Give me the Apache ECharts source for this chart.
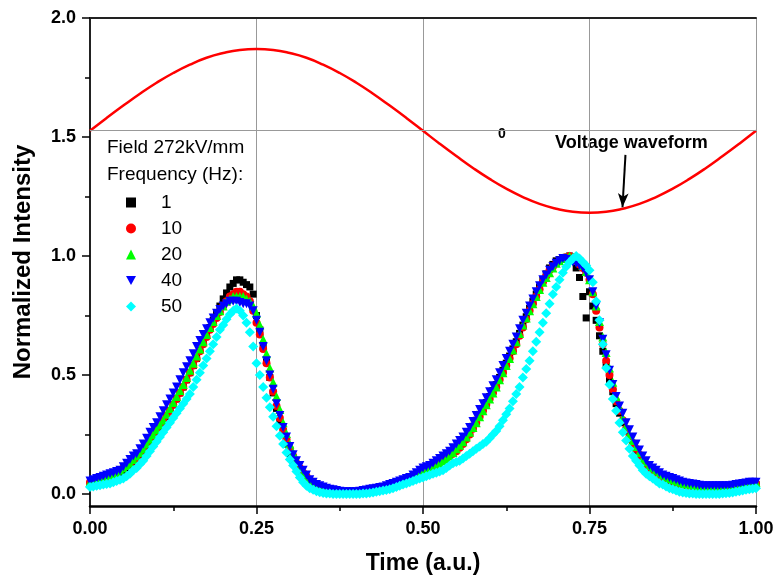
<!DOCTYPE html>
<html>
<head>
<meta charset="utf-8">
<script src="https://cdn.jsdelivr.net/npm/echarts@6/dist/echarts.min.js"></script>
<style>html,body{margin:0;padding:0;background:#fff}#c{width:777px;height:585px}</style>
</head>
<body>
<div id="c"></div>
<script>
// ---- data ----
const time = [
0.000,0.005,0.010,0.015,0.020,0.025,0.030,0.035,0.040,0.045,
0.050,0.055,0.060,0.065,0.070,0.075,0.080,0.085,0.090,0.095,
0.100,0.105,0.110,0.115,0.120,0.125,0.130,0.135,0.140,0.145,
0.150,0.155,0.160,0.165,0.170,0.175,0.180,0.185,0.190,0.195,
0.200,0.205,0.210,0.215,0.220,0.225,0.230,0.235,0.240,0.245,
0.250,0.255,0.260,0.265,0.270,0.275,0.280,0.285,0.290,0.295,
0.300,0.305,0.310,0.315,0.320,0.325,0.330,0.335,0.340,0.345,
0.350,0.355,0.360,0.365,0.370,0.375,0.380,0.385,0.390,0.395,
0.400,0.405,0.410,0.415,0.420,0.425,0.430,0.435,0.440,0.445,
0.450,0.455,0.460,0.465,0.470,0.475,0.480,0.485,0.490,0.495,
0.500,0.505,0.510,0.515,0.520,0.525,0.530,0.535,0.540,0.545,
0.550,0.555,0.560,0.565,0.570,0.575,0.580,0.585,0.590,0.595,
0.600,0.605,0.610,0.615,0.620,0.625,0.630,0.635,0.640,0.645,
0.650,0.655,0.660,0.665,0.670,0.675,0.680,0.685,0.690,0.695,
0.700,0.705,0.710,0.715,0.720,0.725,0.730,0.735,0.740,0.745,
0.750,0.755,0.760,0.765,0.770,0.775,0.780,0.785,0.790,0.795,
0.800,0.805,0.810,0.815,0.820,0.825,0.830,0.835,0.840,0.845,
0.850,0.855,0.860,0.865,0.870,0.875,0.880,0.885,0.890,0.895,
0.900,0.905,0.910,0.915,0.920,0.925,0.930,0.935,0.940,0.945,
0.950,0.955,0.960,0.965,0.970,0.975,0.980,0.985,0.990,0.995,
1.000];

const hz1 = [
0.04,0.045,0.05,0.055,0.06,0.065,0.07,0.075,0.08,0.09,
0.10,0.11,0.12,0.135,0.15,0.165,0.18,0.20,0.22,0.24,
0.26,0.28,0.30,0.325,0.35,0.375,0.40,0.425,0.45,0.48,
0.51,0.54,0.57,0.605,0.64,0.67,0.70,0.73,0.76,0.79,
0.82,0.845,0.87,0.885,0.90,0.90,0.89,0.88,0.87,0.84,
0.75,0.69,0.62,0.555,0.49,0.425,0.36,0.30,0.25,0.21,
0.17,0.14,0.11,0.095,0.08,0.065,0.05,0.04,0.035,0.03,
0.025,0.022,0.02,0.017,0.015,0.012,0.01,0.01,0.01,0.01,
0.01,0.01,0.01,0.012,0.015,0.017,0.02,0.022,0.025,0.028,
0.03,0.035,0.04,0.045,0.05,0.055,0.06,0.07,0.08,0.09,
0.10,0.105,0.11,0.12,0.13,0.14,0.15,0.16,0.17,0.18,
0.19,0.205,0.22,0.24,0.26,0.285,0.31,0.335,0.36,0.385,
0.41,0.435,0.46,0.49,0.52,0.55,0.58,0.61,0.64,0.675,
0.71,0.745,0.78,0.81,0.84,0.87,0.90,0.925,0.95,0.965,
0.98,0.985,0.99,0.995,1.00,0.99,0.95,0.91,0.83,0.74,
0.85,0.79,0.73,0.665,0.60,0.54,0.48,0.43,0.38,0.34,
0.30,0.265,0.23,0.205,0.18,0.16,0.14,0.12,0.11,0.095,
0.08,0.072,0.065,0.06,0.055,0.05,0.045,0.042,0.04,0.037,
0.035,0.032,0.03,0.027,0.025,0.022,0.02,0.02,0.02,0.02,
0.02,0.022,0.025,0.025,0.025,0.027,0.03,0.032,0.035,0.037,
0.04];

const hz10 = [
0.05,0.055,0.06,0.065,0.07,0.075,0.08,0.085,0.09,0.10,
0.11,0.12,0.13,0.14,0.15,0.17,0.19,0.21,0.23,0.25,
0.27,0.29,0.31,0.33,0.35,0.375,0.40,0.425,0.45,0.48,
0.51,0.54,0.57,0.60,0.63,0.66,0.69,0.715,0.74,0.765,
0.79,0.81,0.83,0.84,0.85,0.85,0.84,0.83,0.81,0.77,
0.72,0.67,0.61,0.55,0.49,0.43,0.37,0.32,0.27,0.23,
0.19,0.16,0.13,0.11,0.09,0.075,0.06,0.05,0.04,0.035,
0.03,0.025,0.02,0.018,0.015,0.012,0.01,0.01,0.01,0.01,
0.01,0.01,0.01,0.012,0.015,0.017,0.02,0.022,0.025,0.028,
0.03,0.035,0.04,0.045,0.05,0.055,0.06,0.07,0.08,0.09,
0.10,0.105,0.11,0.115,0.12,0.13,0.14,0.15,0.16,0.17,
0.18,0.195,0.21,0.23,0.25,0.275,0.30,0.325,0.35,0.375,
0.40,0.425,0.45,0.48,0.51,0.54,0.57,0.60,0.63,0.665,
0.70,0.735,0.77,0.80,0.83,0.86,0.89,0.915,0.94,0.955,
0.97,0.98,0.99,0.995,1.00,0.995,0.98,0.965,0.95,0.93,
0.90,0.84,0.77,0.70,0.63,0.56,0.50,0.44,0.39,0.35,
0.31,0.275,0.24,0.215,0.19,0.165,0.14,0.125,0.11,0.10,
0.09,0.08,0.07,0.065,0.06,0.055,0.05,0.045,0.04,0.038,
0.035,0.032,0.03,0.028,0.025,0.025,0.025,0.025,0.025,0.025,
0.025,0.025,0.025,0.027,0.03,0.032,0.035,0.038,0.04,0.042,
0.045];

const hz20 = [
0.05,0.055,0.06,0.065,0.07,0.075,0.08,0.085,0.09,0.10,
0.11,0.12,0.13,0.145,0.16,0.175,0.19,0.21,0.23,0.25,
0.27,0.29,0.31,0.335,0.36,0.385,0.41,0.435,0.46,0.49,
0.52,0.55,0.58,0.61,0.64,0.67,0.70,0.725,0.75,0.77,
0.79,0.81,0.82,0.83,0.83,0.83,0.83,0.82,0.81,0.79,
0.76,0.71,0.65,0.59,0.53,0.47,0.41,0.355,0.30,0.255,
0.21,0.175,0.14,0.115,0.09,0.075,0.06,0.05,0.04,0.035,
0.03,0.025,0.02,0.018,0.015,0.012,0.01,0.01,0.01,0.01,
0.01,0.01,0.01,0.012,0.015,0.017,0.02,0.022,0.025,0.028,
0.03,0.035,0.04,0.045,0.05,0.055,0.06,0.07,0.08,0.09,
0.10,0.105,0.11,0.115,0.12,0.13,0.14,0.15,0.16,0.175,
0.19,0.205,0.22,0.24,0.26,0.28,0.30,0.325,0.35,0.375,
0.40,0.425,0.45,0.48,0.51,0.54,0.57,0.605,0.64,0.675,
0.71,0.74,0.77,0.80,0.83,0.86,0.89,0.91,0.93,0.95,
0.97,0.98,0.99,0.995,1.00,0.995,0.99,0.98,0.96,0.935,
0.90,0.85,0.79,0.725,0.66,0.595,0.53,0.47,0.41,0.365,
0.32,0.285,0.25,0.225,0.20,0.175,0.15,0.135,0.12,0.11,
0.10,0.09,0.08,0.072,0.065,0.06,0.055,0.05,0.045,0.042,
0.04,0.037,0.035,0.032,0.03,0.03,0.03,0.03,0.03,0.03,
0.03,0.03,0.03,0.032,0.035,0.037,0.04,0.042,0.045,0.047,
0.05];

const hz40 = [
0.055,0.06,0.065,0.07,0.075,0.08,0.085,0.09,0.095,0.10,
0.115,0.13,0.145,0.16,0.17,0.19,0.21,0.235,0.26,0.28,
0.30,0.325,0.35,0.375,0.40,0.425,0.45,0.48,0.51,0.535,
0.56,0.59,0.62,0.645,0.67,0.695,0.72,0.74,0.76,0.775,
0.79,0.80,0.81,0.81,0.81,0.805,0.80,0.80,0.79,0.77,
0.73,0.68,0.62,0.56,0.50,0.44,0.38,0.33,0.28,0.24,
0.20,0.165,0.14,0.12,0.10,0.08,0.06,0.05,0.04,0.035,
0.03,0.025,0.02,0.018,0.015,0.012,0.01,0.01,0.01,0.01,
0.01,0.012,0.015,0.017,0.02,0.022,0.025,0.028,0.03,0.035,
0.04,0.045,0.05,0.055,0.06,0.065,0.07,0.08,0.09,0.10,
0.11,0.115,0.12,0.13,0.14,0.15,0.16,0.17,0.18,0.195,
0.21,0.225,0.24,0.26,0.28,0.305,0.33,0.355,0.38,0.405,
0.43,0.455,0.48,0.51,0.54,0.57,0.60,0.63,0.66,0.695,
0.73,0.76,0.79,0.82,0.85,0.875,0.90,0.92,0.94,0.955,
0.97,0.98,0.99,0.985,0.98,0.975,0.97,0.96,0.95,0.93,
0.90,0.85,0.79,0.72,0.65,0.585,0.52,0.46,0.41,0.37,
0.34,0.30,0.27,0.24,0.21,0.185,0.16,0.14,0.12,0.11,
0.10,0.09,0.08,0.075,0.07,0.065,0.06,0.055,0.05,0.047,
0.045,0.042,0.04,0.037,0.035,0.035,0.035,0.035,0.035,0.035,
0.035,0.035,0.035,0.037,0.04,0.042,0.045,0.047,0.05,0.05,
0.05];

const hz50 = [
0.03,0.032,0.035,0.037,0.04,0.042,0.045,0.05,0.055,0.06,
0.065,0.075,0.085,0.10,0.11,0.125,0.14,0.16,0.18,0.20,
0.22,0.24,0.26,0.28,0.30,0.32,0.34,0.36,0.38,0.40,
0.42,0.45,0.48,0.51,0.54,0.57,0.60,0.63,0.66,0.69,
0.71,0.735,0.755,0.77,0.78,0.77,0.75,0.72,0.68,0.62,
0.55,0.50,0.45,0.405,0.365,0.325,0.285,0.245,0.21,0.175,
0.145,0.12,0.095,0.07,0.05,0.035,0.025,0.018,0.012,0.008,
0.005,0.003,0.002,0.0,0.0,0.0,0.0,0.0,0.0,0.0,
0.0,0.0,0.002,0.003,0.005,0.007,0.01,0.012,0.015,0.017,
0.02,0.025,0.03,0.035,0.04,0.045,0.05,0.055,0.06,0.065,
0.07,0.075,0.08,0.085,0.09,0.095,0.10,0.11,0.12,0.13,
0.135,0.14,0.15,0.16,0.17,0.18,0.19,0.20,0.21,0.22,
0.235,0.25,0.265,0.285,0.31,0.335,0.36,0.39,0.42,0.45,
0.49,0.525,0.56,0.60,0.64,0.68,0.72,0.76,0.80,0.84,
0.87,0.90,0.93,0.955,0.975,0.99,1.00,0.99,0.975,0.96,
0.94,0.89,0.81,0.73,0.63,0.53,0.46,0.40,0.35,0.30,
0.26,0.225,0.19,0.16,0.14,0.12,0.10,0.085,0.075,0.065,
0.055,0.045,0.04,0.032,0.025,0.02,0.015,0.01,0.007,0.005,
0.003,0.002,0.0,0.0,0.0,0.0,0.0,0.0,0.0,0.0,
0.002,0.004,0.005,0.007,0.01,0.012,0.015,0.018,0.02,0.022,
0.025];

const voltageTime = [0,0.025,0.05,0.075,0.1,0.125,0.15,0.175,0.2,0.225,0.25,0.275,0.3,0.325,0.35,0.375,0.4,0.425,0.45,0.475,
  0.5,0.525,0.55,0.575,0.6,0.625,0.65,0.675,0.7,0.725,0.75,0.775,0.8,0.825,0.85,0.875,0.9,0.925,0.95,0.975,1.0];
const voltage = [1.526,1.580,1.632,1.682,1.728,1.769,1.804,1.833,1.853,1.866,1.870,1.866,1.853,1.833,1.804,1.769,1.728,1.682,1.632,1.580,
  1.526,1.472,1.420,1.370,1.324,1.283,1.248,1.219,1.199,1.186,1.182,1.186,1.199,1.219,1.248,1.283,1.324,1.370,1.420,1.472,1.526];
const voltageZero = 1.526;
const arrowFrom = [0.804, 1.425];
const arrowTo = [0.7995, 1.205];

const freqNames = ['1','10','20','40','50'];
const xTicks = [0, 0.25, 0.5, 0.75, 1.0];
const yTicks = [0, 0.5, 1.0, 1.5, 2.0];
const yMinorTicks = [0.25, 0.75, 1.25, 1.75];

// ---- chart ----
const FONT = 'Liberation Sans, Arial, sans-serif';
const pairs = (xs, ys) => xs.map((x, i) => [x, ys[i]]);
const seriesSpec = [
  {name: freqNames[0], data: hz1,  color: '#000000', symbol: 'rect',     size: 7},
  {name: freqNames[1], data: hz10, color: '#ff0000', symbol: 'circle',   size: 8},
  {name: freqNames[2], data: hz20, color: '#00ff00', symbol: 'triangle', size: 9},
  {name: freqNames[3], data: hz40, color: '#0000ff', symbol: 'path://M0,0L10,0L5,9Z', size: 9},
  {name: freqNames[4], data: hz50, color: '#00ffff', symbol: 'diamond',  size: 10}
];

const chart = echarts.init(document.getElementById('c'), null, {renderer: 'canvas'});
const option = {
  animation: false,
  backgroundColor: '#fff',
  grid: {left: 90, right: 21, top: 18, bottom: 79},
  xAxis: [{
    type: 'value', min: xTicks[0], max: xTicks[xTicks.length - 1], interval: 0.25, position: 'bottom',
    axisLine: {show: true, onZero: false, lineStyle: {color: '#000', width: 2.5}},
    axisTick: {show: true, length: 8, lineStyle: {color: '#000', width: 1.5}},
    minorTick: {show: true, splitNumber: 2, length: 5, lineStyle: {color: '#000', width: 1.5}},
    axisLabel: {margin: 14, fontSize: 18, fontWeight: 'bold', color: '#000', fontFamily: FONT,
      formatter: v => v.toFixed(2)},
    splitLine: {show: true, lineStyle: {color: '#999', width: 1}},
    name: 'Time (a.u.)', nameLocation: 'middle', nameGap: 46,
    nameTextStyle: {fontSize: 23, fontWeight: 'bold', color: '#000', fontFamily: FONT}
  }, {
    type: 'value', min: 0, max: 1, position: 'top',
    axisLine: {show: true, onZero: false, lineStyle: {color: '#222', width: 2}},
    axisTick: {show: false}, axisLabel: {show: false}, splitLine: {show: false}
  }],
  yAxis: [{
    type: 'value', min: -0.05, max: 2.0, position: 'left',
    axisLine: {show: true, onZero: false, lineStyle: {color: '#000', width: 2}},
    axisTick: {show: true, length: 8, customValues: yTicks, lineStyle: {color: '#000', width: 1.5}},
    axisLabel: {customValues: yTicks, margin: 14, fontSize: 18, fontWeight: 'bold', color: '#000', fontFamily: FONT,
      formatter: v => Number(v).toFixed(1)},
    splitLine: {show: false},
    name: 'Normalized Intensity', nameLocation: 'middle', nameGap: 55,
    nameTextStyle: {fontSize: 24, fontWeight: 'bold', color: '#000', fontFamily: FONT}
  }, {
    type: 'value', min: -0.05, max: 2.0, position: 'left',
    axisLine: {show: false},
    axisTick: {show: true, length: 5, customValues: yMinorTicks, lineStyle: {color: '#000', width: 1.5}},
    axisLabel: {show: false}, splitLine: {show: false}
  }, {
    type: 'value', min: -0.05, max: 2.0, position: 'right',
    axisLine: {show: true, lineStyle: {color: '#222', width: 2}},
    axisTick: {show: false}, axisLabel: {show: false}, splitLine: {show: false}
  }],
  legend: {
    data: freqNames, orient: 'vertical', left: 121, top: 188,
    itemWidth: 10, itemHeight: 10, itemGap: 7, selectedMode: false,
    textStyle: {fontSize: 19, color: '#000', fontFamily: FONT, padding: [0, 0, 0, 20]}
  },
  graphic: [
    {type: 'text', left: 107, top: 138, style: {text: 'Field 272kV/mm', fontSize: 19, fill: '#000', fontFamily: FONT}},
    {type: 'text', left: 107, top: 165, style: {text: 'Frequency (Hz):', fontSize: 19, fill: '#000', fontFamily: FONT}},
    {type: 'text', left: 498, top: 127, style: {text: '0', fontSize: 14, fontWeight: 'bold', fill: '#000', fontFamily: FONT}},
    {type: 'text', left: 555, top: 134, style: {text: 'Voltage waveform', fontSize: 18, fontWeight: 'bold', fill: '#000', fontFamily: FONT}}
  ],
  series: [
    {
      type: 'line', name: 'Voltage', data: pairs(voltageTime, voltage), smooth: true, showSymbol: false,
      lineStyle: {color: '#ff0000', width: 2.5}, itemStyle: {color: '#ff0000'}, z: 3, silent: true,
      markLine: {
        silent: true, symbol: ['none', 'none'], label: {show: false}, animation: false,
        data: [
          {yAxis: voltageZero, lineStyle: {color: '#999', width: 1, type: 'solid'}},
          [{coord: arrowFrom, symbol: 'none', lineStyle: {color: '#000', width: 2, type: 'solid'}},
           {coord: arrowTo, symbol: 'arrow', symbolSize: [8, 14]}]
        ]
      }
    }
  ].concat(seriesSpec.map(s => ({
    type: 'scatter', name: s.name, data: pairs(time, s.data),
    symbol: s.symbol, symbolSize: s.size,
    itemStyle: {color: s.color, opacity: 1}, z: 4, silent: true
  })))
};
chart.setOption(option);
</script>
</body>
</html>
